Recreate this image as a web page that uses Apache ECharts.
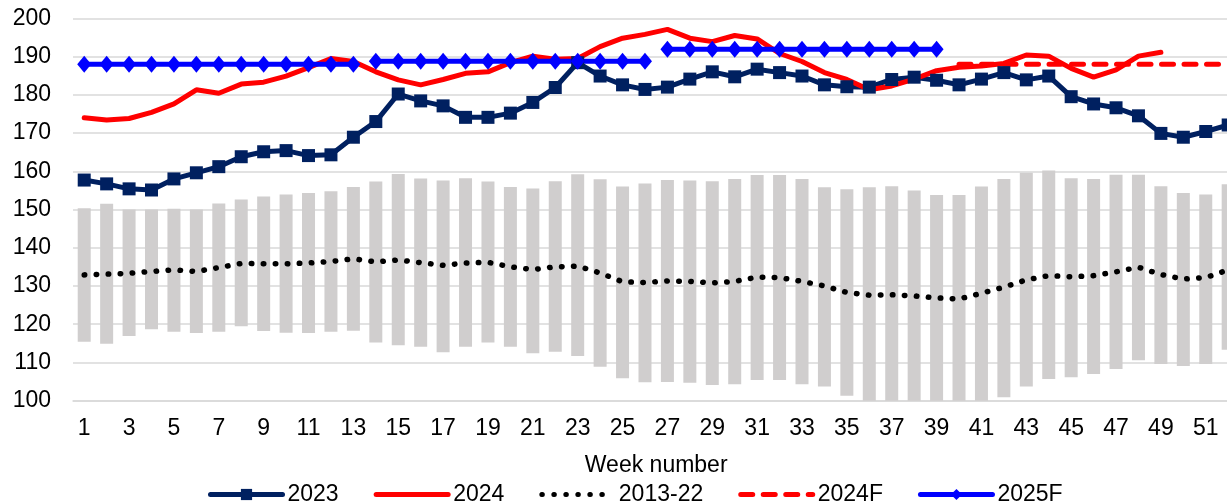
<!DOCTYPE html>
<html>
<head>
<meta charset="utf-8">
<script src="https://cdn.jsdelivr.net/npm/echarts@6/dist/echarts.min.js"></script>
<style>
  html, body { margin: 0; padding: 0; background: #fff; }
  #chart { width: 1227px; height: 502px; }
</style>
</head>
<body>
<div id="chart"></div>
<script>
// Week numbers on the category axis
const weeks = ['1','2','3','4','5','6','7','8','9','10','11','12','13','14','15','16','17','18','19','20',
  '21','22','23','24','25','26','27','28','29','30','31','32','33','34','35','36','37','38','39','40',
  '41','42','43','44','45','46','47','48','49','50','51','52'];

// Weekly values, 2023
const s2023 = [157.7,156.7,155.4,155.1,158.0,159.6,161.2,163.8,165.1,165.4,164.1,164.3,168.9,173.0,
  180.2,178.4,177.1,174.1,174.1,175.2,178.0,181.9,188.4,184.9,182.6,181.4,182.0,
  184.1,186.0,184.7,186.7,185.8,184.9,182.6,182.1,182.0,184.0,184.6,183.8,182.6,
  184.1,185.8,183.9,184.9,179.5,177.6,176.6,174.5,169.9,168.9,170.4,172.1];

// Weekly values, 2024 (reported up to week 49)
const s2024 = [174.0,173.4,173.8,175.4,177.6,181.3,180.4,182.8,183.3,184.9,187.1,189.5,188.7,
  186.0,183.9,182.6,184.0,185.6,186.0,188.4,190.1,189.3,189.5,192.6,194.8,195.8,197.1,
  194.8,193.9,195.5,194.6,190.8,188.7,185.8,184.0,181.3,182.3,184.1,186.3,187.2,
  187.5,188.2,190.4,190.1,186.9,184.6,186.5,190.1,191.1,null,null,null];

// 2013-22 weekly average, minimum and maximum
const avg1322 = [132.9,133.1,133.3,133.8,134.2,133.8,134.8,135.9,135.8,135.8,136.0,136.4,137.1,136.3,
  136.8,136.1,135.4,136.0,136.2,135.0,134.3,135.0,135.2,133.4,131.1,130.9,131.3,
  131.2,130.8,131.2,132.3,132.2,131.2,130.0,128.3,127.6,127.7,127.4,126.9,126.6,
  128.1,129.7,131.6,132.7,132.4,132.7,133.7,134.9,133.0,131.8,132.2,134.2];
const max1322 = [150.3,151.5,150.0,150.0,150.2,150.0,151.6,152.6,153.4,153.9,154.3,154.8,155.9,157.3,
  159.3,158.1,157.6,158.2,157.3,155.9,155.5,157.4,159.2,157.9,156.0,156.8,157.7,
  157.6,157.4,158.0,159.0,159.0,158.0,155.8,155.3,155.8,156.1,155.0,153.8,153.8,
  156.0,158.0,159.6,160.2,158.2,158.0,159.1,159.1,156.1,154.3,153.9,156.6];
const min1322 = [115.4,114.9,116.9,118.7,118.0,117.7,118.0,119.5,118.2,117.8,117.7,118.0,118.3,115.2,
  114.5,114.1,112.7,114.1,115.2,114.1,112.4,112.8,111.7,108.9,105.9,104.8,104.9,
  104.7,104.1,104.3,105.4,105.4,104.3,103.7,101.3,98.6,98.2,98.8,99.0,98.5,
  98.9,100.9,103.7,105.7,106.1,107.0,108.3,110.6,109.6,109.1,109.6,113.3];

// 2024 forecast, weeks 40-52
const f2024Start = 40;
const f2024 = [188.0,188.0,188.0,188.0,188.0,188.0,188.0,188.0,188.0,188.0,188.0,188.0,188.0];

// 2025 forecast, one block per quarter (weeks 1-13, 14-26, 27-39)
const f2025Q1 = [188.0,188.0,188.0,188.0,188.0,188.0,188.0,188.0,188.0,188.0,188.0,188.0,188.0];
const f2025Q2 = [188.8,188.8,188.8,188.8,188.8,188.8,188.8,188.8,188.8,188.8,188.8,188.8,188.8];
const f2025Q3 = [191.9,191.9,191.9,191.9,191.9,191.9,191.9,191.9,191.9,191.9,191.9,191.9,191.9];

// place a block of weekly values on the full week axis
function placeAt(values, startWeek) {
  const out = weeks.map(() => null);
  values.forEach((v, i) => { out[startWeek - 1 + i] = v; });
  return out;
}

const rangeSpan = max1322.map((v, i) => +(v - min1322[i]).toFixed(2));

const FONT = 'Liberation Sans, Arial, sans-serif';
const FS = 23;
const NAVY = '#002060', RED = '#FF0000', BLUE = '#0000FF', GREY = '#D0CECE';
const NO_MARK = { color: 'rgba(0,0,0,0)', borderWidth: 0 };

function quarterSeries(values, startWeek) {
  return {
    name: '2025F', type: 'line', data: placeAt(values, startWeek),
    symbol: 'diamond', symbolSize: [14, 17], showAllSymbol: true,
    color: BLUE, itemStyle: { color: BLUE },
    lineStyle: { color: BLUE, width: 5, cap: 'round' },
    connectNulls: false
  };
}

const chart = echarts.init(document.getElementById('chart'), null, { renderer: 'canvas' });
chart.setOption({
  animation: false,
  textStyle: { fontFamily: FONT, color: '#000' },
  grid: { left: 73, top: 18.3, width: 1166.4, height: 382.4, containLabel: false, outerBoundsMode: 'none' },
  legend: {
    data: [
      { name: '2023' },
      { name: '2024', itemStyle: NO_MARK },
      { name: '2013-22', itemStyle: NO_MARK },
      { name: '2024F', itemStyle: NO_MARK },
      { name: '2025F' }
    ],
    left: 208, top: 483, padding: 0,
    itemWidth: 72, itemHeight: 14, itemGap: 35,
    lineStyle: { width: 5 },
    textStyle: { fontSize: FS, fontFamily: FONT, color: '#000' }
  },
  xAxis: {
    type: 'category', data: weeks, boundaryGap: true,
    name: 'Week number', nameLocation: 'middle', nameGap: 53,
    nameTextStyle: { fontSize: FS, fontFamily: FONT, color: '#000' },
    axisTick: { show: false },
    axisLine: { lineStyle: { color: '#D9D9D9', width: 1.5 } },
    axisLabel: { interval: 1, fontSize: FS, margin: 16, color: '#000', fontFamily: FONT }
  },
  yAxis: {
    type: 'value', min: 100, max: 200, interval: 10,
    axisLine: { show: false }, axisTick: { show: false },
    axisLabel: { fontSize: FS, margin: 22, color: '#000', fontFamily: FONT },
    splitLine: { lineStyle: { color: '#D9D9D9', width: 1.5 } }
  },
  series: [
    { name: 'base', type: 'bar', stack: 'range', data: min1322, barWidth: 13,
      itemStyle: { color: 'rgba(0,0,0,0)' }, silent: true },
    { name: 'range', type: 'bar', stack: 'range', data: rangeSpan, barWidth: 13,
      itemStyle: { color: GREY }, silent: true },
    { name: '2023', type: 'line', data: s2023,
      symbol: 'rect', symbolSize: 13, showAllSymbol: true,
      color: NAVY, itemStyle: { color: NAVY },
      lineStyle: { color: NAVY, width: 5, cap: 'round' } },
    { name: '2024', type: 'line', data: s2024, symbol: 'none',
      color: RED, lineStyle: { color: RED, width: 5, cap: 'round' } },
    { name: '2013-22', type: 'line', data: avg1322, symbol: 'none',
      color: '#000', lineStyle: { color: '#000', width: 5.5, type: [0.5, 11.5], cap: 'round' } },
    { name: '2024F', type: 'line', data: placeAt(f2024, f2024Start), symbol: 'none',
      color: RED, lineStyle: { color: RED, width: 5, type: [12, 10.5], cap: 'round' } },
    quarterSeries(f2025Q1, 1),
    quarterSeries(f2025Q2, 14),
    quarterSeries(f2025Q3, 27)
  ]
});
</script>
</body>
</html>
